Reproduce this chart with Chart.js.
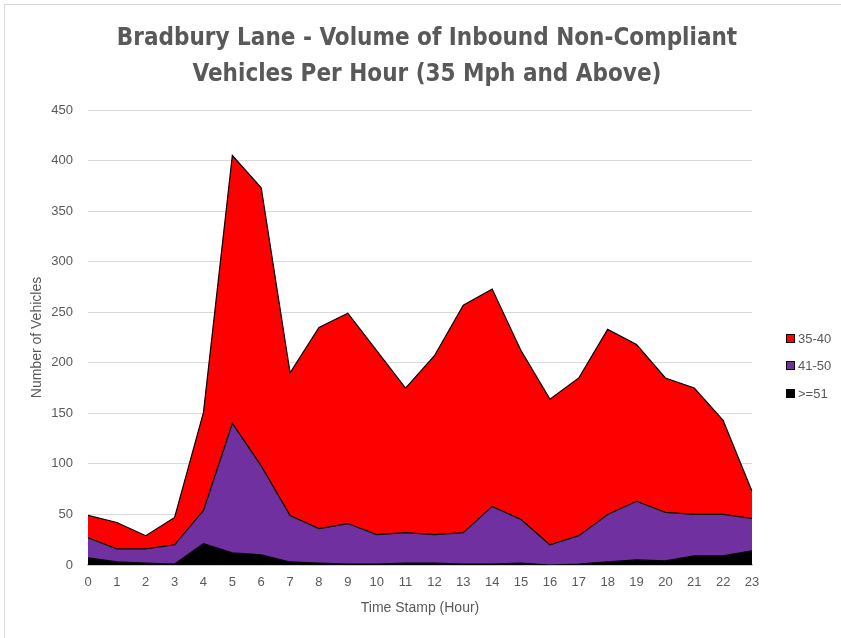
<!DOCTYPE html>
<html>
<head>
<meta charset="utf-8">
<title>Bradbury Lane - Inbound Non-Compliant Vehicles</title>
<script src="https://cdn.jsdelivr.net/npm/chart.js@4.4.1/dist/chart.umd.min.js"></script>
<style>
  html, body { margin: 0; padding: 0; background: #fff; overflow: hidden; }
  #wrap { position: relative; width: 841px; height: 638px; }
  #frame { position: absolute; left: 4px; top: 4px; width: 900px; height: 700px;
           border-top: 1px solid #d9d9d9; border-left: 1px solid #d9d9d9; }
  #myChart { position: absolute; left: 0; top: 0; }
</style>
</head>
<body>
<div id="wrap">
  <div id="frame"></div>
  <canvas id="myChart" width="841" height="638"></canvas>
</div>
<script>
const ctx = document.getElementById('myChart');

// hours of the day (x axis)
const hours = ['0', '1', '2', '3', '4', '5', '6', '7', '8', '9', '10', '11',
               '12', '13', '14', '15', '16', '17', '18', '19', '20', '21', '22', '23'];

// vehicles per hour, by speed band
const speed51up = [7, 3, 2, 1, 21, 12, 10, 3, 2, 1, 1, 2, 2, 1, 1, 2, 0, 1, 3, 5, 4, 9, 9, 14];
const speed41to50 = [20, 13, 14, 19, 33, 128, 88, 46, 34, 40, 29, 30, 28, 31, 57, 43, 20, 28, 47, 58, 48, 41, 41, 32];
const speed35to40 = [22, 26, 13, 27, 97, 265, 275, 141, 199, 208, 182, 143, 177, 225, 215, 167, 144, 156, 183, 155, 133, 125, 93, 27];

const titleLines = ['Bradbury Lane - Volume of Inbound Non-Compliant', 'Vehicles Per Hour (35 Mph and Above)'];

const textGray = '#595959';
const baseFont = '"Liberation Sans", Arial, sans-serif';

// legend drawn at the right, top series first (like the original)
const sideLegend = {
    id: 'sideLegend',
    afterDraw(chart) {
        const c = chart.ctx;
        const area = chart.chartArea;
        const items = chart.data.datasets.slice().reverse();
        const x = area.right + 34;
        const midY = (area.top + area.bottom) / 2;
        c.save();
        c.font = '13px ' + baseFont;
        c.textBaseline = 'middle';
        items.forEach(function(ds, i) {
            const y = Math.round(midY + i * 27.5);
            c.fillStyle = ds.backgroundColor;
            c.fillRect(x, y - 4, 9, 9);
            c.strokeStyle = '#000';
            c.lineWidth = 1;
            c.strokeRect(x + 0.5, y - 3.5, 8, 8);
            c.fillStyle = textGray;
            c.fillText(ds.label, x + 12, y + 1);
        });
        c.restore();
    }
};

const myChart = new Chart(ctx, {
    type: 'line',
    data: {
        labels: hours,
        datasets: [{
            label: '>=51',
            data: speed51up,
            backgroundColor: '#000000',
            borderColor: '#000000',
            borderWidth: 1.2,
            fill: 'origin'
        }, {
            label: '41-50',
            data: speed41to50,
            backgroundColor: '#7030A0',
            borderColor: '#000000',
            borderWidth: 1.2,
            fill: '-1'
        }, {
            label: '35-40',
            data: speed35to40,
            backgroundColor: '#FF0000',
            borderColor: '#000000',
            borderWidth: 1.2,
            fill: '-1'
        }]
    },
    plugins: [sideLegend],
    options: {
        responsive: false,
        animation: false,
        elements: {
            point: { radius: 0, hoverRadius: 0 },
            line: { tension: 0 }
        },
        layout: {
            padding: { left: 13, right: 0, top: 0, bottom: 17 }
        },
        plugins: {
            legend: { display: false },
            tooltip: { enabled: false },
            title: {
                display: true,
                text: titleLines,
                color: textGray,
                font: {
                    family: '"Liberation Sans Narrow", "DejaVu Sans Condensed", sans-serif',
                    size: 24,
                    weight: 'bold',
                    lineHeight: 1.5
                },
                padding: { top: 21, bottom: 17 }
            }
        },
        scales: {
            x: {
                grid: { display: false, drawTicks: false },
                border: { display: true, color: '#bfbfbf', width: 1.5 },
                ticks: {
                    color: textGray,
                    font: { family: baseFont, size: 13 },
                    padding: 10,
                    maxRotation: 0,
                    autoSkip: false
                },
                title: {
                    display: true,
                    text: 'Time Stamp (Hour)',
                    color: textGray,
                    font: { family: baseFont, size: 14 },
                    padding: { top: 4, bottom: 4 }
                },
                afterFit: function(axis) { axis.height = 56; }
            },
            y: {
                stacked: true,
                min: 0,
                max: 450,
                grid: { color: '#d9d9d9', drawTicks: false },
                border: { display: false },
                ticks: {
                    stepSize: 50,
                    color: textGray,
                    font: { family: baseFont, size: 13 },
                    padding: 15
                },
                title: {
                    display: true,
                    text: 'Number of Vehicles',
                    color: textGray,
                    font: { family: baseFont, size: 14 },
                    padding: { top: 15.5, bottom: 4 }
                },
                afterFit: function(axis) { axis.width = 75; }
            },
            // empty space on the right for the legend
            legendSpace: {
                position: 'right',
                display: true,
                grid: { display: false },
                border: { display: false },
                ticks: { display: false },
                afterFit: function(axis) { axis.width = 89; }
            }
        }
    }
});
</script>
</body>
</html>
